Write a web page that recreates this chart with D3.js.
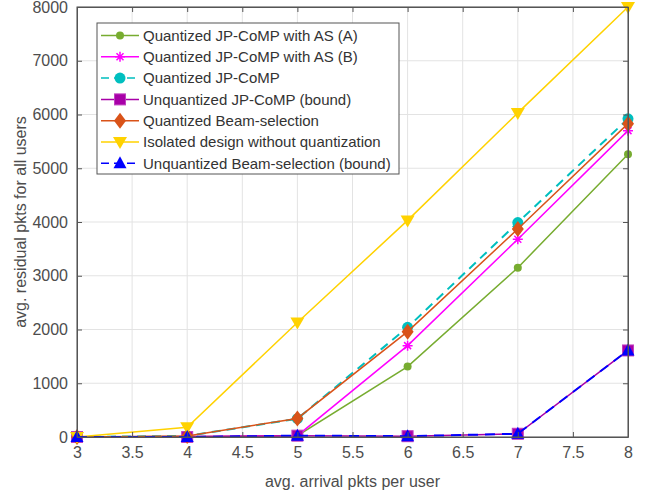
<!DOCTYPE html>
<html>
<head>
<meta charset="utf-8">
<script src="https://cdn.jsdelivr.net/npm/d3@7"></script>
<style>
  body { margin: 0; background: #fff; }
  text { font-family: "Liberation Sans", Arial, Helvetica, sans-serif; }
</style>
</head>
<body>
<div id="chart"></div>
<script>
var arrivals = [3, 4, 5, 6, 7, 8]

var asA      = [0, 10, 25, 1310, 3150, 5260]
var asB      = [0, 10, 25, 1700, 3680, 5700]
var jpQuant  = [0, 20, 340, 2040, 3990, 5920]
var jpBound  = [0, 0, 25, 15, 60, 1610]
var beamQ    = [0, 20, 345, 1960, 3870, 5830]
var isolated = [0, 180, 2130, 4030, 6030, 8000]
var beamBound = [0, 0, 25, 15, 60, 1610]

var xTicks = [3, 3.5, 4, 4.5, 5, 5.5, 6, 6.5, 7, 7.5, 8]
var yTicks = [0, 1000, 2000, 3000, 4000, 5000, 6000, 7000, 8000]

var series = [
  {name: 'Quantized JP-CoMP with AS (A)', values: asA, color: '#77AC30', marker: 'dot', dash: null},
  {name: 'Quantized JP-CoMP with AS (B)', values: asB, color: '#FF00FF', marker: 'star', dash: null},
  {name: 'Quantized JP-CoMP', values: jpQuant, color: '#00BFBF', marker: 'circle', dash: '9,6'},
  {name: 'Unquantized JP-CoMP (bound)', values: jpBound, color: '#A800A8', marker: 'square', dash: null},
  {name: 'Quantized Beam-selection', values: beamQ, color: '#D95319', marker: 'diamond', dash: null},
  {name: 'Isolated design without quantization', values: isolated, color: '#FFD200', marker: 'tri-down', dash: null},
  {name: 'Unquantized Beam-selection (bound)', values: beamBound, color: '#0000FF', marker: 'tri-up', dash: '10,7'}
]

var W = 645, H = 495
var margin = {left: 77, right: 17, top: 7, bottom: 58}
var iw = W - margin.left - margin.right,
    ih = H - margin.top - margin.bottom

var svg = d3.select('#chart').append('svg')
    .attr('width', W)
    .attr('height', H)

var g = svg.append('g')
    .attr('transform', 'translate(' + margin.left + ',' + margin.top + ')')

var x = d3.scaleLinear().domain([3, 8]).range([0, iw])
var y = d3.scaleLinear().domain([0, 8000]).range([ih, 0])

// grid
g.append('g').selectAll('line').data(xTicks).join('line')
    .attr('x1', d => x(d)).attr('x2', d => x(d))
    .attr('y1', 0).attr('y2', ih)
    .attr('stroke', '#e3e3e3').attr('stroke-width', 1)
g.append('g').selectAll('line').data(yTicks).join('line')
    .attr('y1', d => y(d)).attr('y2', d => y(d))
    .attr('x1', 0).attr('x2', iw)
    .attr('stroke', '#e3e3e3').attr('stroke-width', 1)

// series
var line = d3.line().x((d, i) => x(arrivals[i])).y(d => y(d))

function drawMarker(sel, type, color, cx, cy){
  var p = sel.append('g').attr('transform', 'translate(' + cx + ',' + cy + ')')
  if (type === 'dot'){
    p.append('circle').attr('r', 4).attr('fill', color)
  } else if (type === 'circle'){
    p.append('circle').attr('r', 5.5).attr('fill', color)
  } else if (type === 'square'){
    p.append('rect').attr('x', -5.5).attr('y', -5.5).attr('width', 11).attr('height', 11)
        .attr('fill', color).attr('stroke', '#C040C0').attr('stroke-width', 1)
  } else if (type === 'diamond'){
    p.append('path').attr('d', 'M0,-8L6,0L0,8L-6,0Z').attr('fill', color)
  } else if (type === 'tri-down'){
    p.append('path').attr('d', 'M-7,-5L7,-5L0,7Z').attr('fill', color)
  } else if (type === 'tri-up'){
    p.append('path').attr('d', 'M-6.5,5L6.5,5L0,-7Z').attr('fill', color)
  } else if (type === 'star'){
    var r = 5
    p.append('path')
        .attr('d', 'M0,' + (-r) + 'L0,' + r + 'M' + (-r) + ',0L' + r + ',0' +
          'M' + (-r*0.7) + ',' + (-r*0.7) + 'L' + (r*0.7) + ',' + (r*0.7) +
          'M' + (-r*0.7) + ',' + (r*0.7) + 'L' + (r*0.7) + ',' + (-r*0.7))
        .attr('stroke', color).attr('stroke-width', 1.5).attr('fill', 'none')
  }
}

var plot = g.append('g')
series.forEach(function(s){
  plot.append('path')
      .attr('d', line(s.values))
      .attr('fill', 'none')
      .attr('stroke', s.color)
      .attr('stroke-width', s.dash ? 2 : 1.5)
      .attr('stroke-dasharray', s.dash)
  s.values.forEach(function(v, i){
    drawMarker(plot, s.marker, s.color, x(arrivals[i]), y(v))
  })
})

// axes box
var axisColor = '#555'
g.append('rect').attr('width', iw).attr('height', ih)
    .attr('fill', 'none').attr('stroke', axisColor).attr('stroke-width', 1)

var xAxis = d3.axisBottom(x).tickValues(xTicks).tickFormat(d3.format('')).tickSizeInner(-5).tickSizeOuter(0).tickPadding(10)
var xa = g.append('g').attr('transform', 'translate(0,' + ih + ')').call(xAxis)
var yAxis = d3.axisLeft(y).tickValues(yTicks).tickFormat(d3.format('d')).tickSizeInner(-5).tickSizeOuter(0).tickPadding(9)
var ya = g.append('g').call(yAxis)
// mirrored ticks
g.append('g').call(d3.axisTop(x).tickValues(xTicks).tickSizeInner(-5).tickSizeOuter(0).tickFormat(''))
g.append('g').attr('transform', 'translate(' + iw + ',0)').call(d3.axisRight(y).tickValues(yTicks).tickSizeInner(-5).tickSizeOuter(0).tickFormat(''))

g.selectAll('.domain').attr('stroke', axisColor)
g.selectAll('.tick line').attr('stroke', axisColor)
g.selectAll('.tick text').attr('fill', '#4d4d4d').style('font-size', '16px')
    .style('font-family', '"Liberation Sans", Arial, sans-serif')

// axis labels
svg.append('text')
    .attr('x', margin.left + iw / 2).attr('y', 487)
    .attr('text-anchor', 'middle').attr('fill', '#4d4d4d')
    .style('font-size', '16px')
    .text('avg. arrival pkts per user')
svg.append('text')
    .attr('transform', 'translate(26,' + (margin.top + ih / 2) + ') rotate(-90)')
    .attr('text-anchor', 'middle').attr('fill', '#4d4d4d')
    .style('font-size', '16px')
    .text('avg. residual pkts for all users')

// legend
var lg = svg.append('g').attr('transform', 'translate(97,23)')
lg.append('rect').attr('width', 302).attr('height', 151)
    .attr('fill', '#fff').attr('stroke', '#555').attr('stroke-width', 1)
series.forEach(function(s, i){
  var yy = 12.5 + i * 21.3
  lg.append('line').attr('x1', 4).attr('x2', 42).attr('y1', yy).attr('y2', yy)
      .attr('stroke', s.color).attr('stroke-width', 1.5)
      .attr('stroke-dasharray', s.dash ? '8,5' : null)
  drawMarker(lg, s.marker, s.color, 23, yy)
  lg.append('text').attr('x', 46).attr('y', yy + 5.2)
      .attr('fill', '#333').style('font-size', '15px')
      .text(s.name)
})
</script>
</body>
</html>
